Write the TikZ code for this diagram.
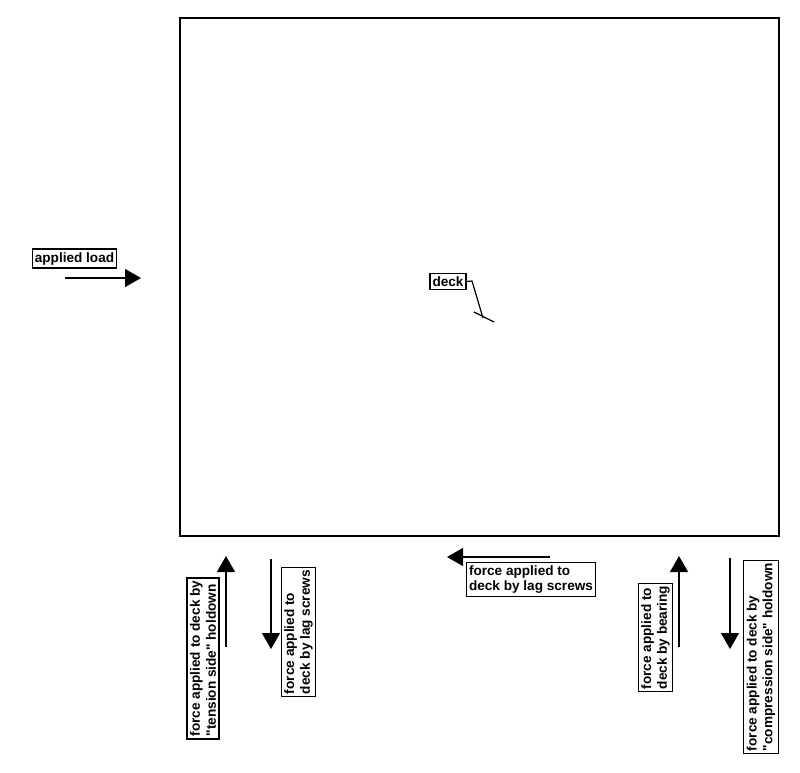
\documentclass[tikz,border=0pt]{standalone}
\usepackage{fontspec}
\newfontfamily\lblfont{Liberation Sans}
\usetikzlibrary{arrows.meta}
\tikzset{
  lbl/.style={draw,line width=1.4pt,font=\lblfont\fontsize{13.6}{15.8}\selectfont\bfseries,align=left,inner xsep=2.5pt,inner ysep=3pt},
  force/.style={line width=1.2pt,-{Triangle[width=18pt,length=16pt]}}
}
\begin{document}
\begin{tikzpicture}[x=1pt,y=-1pt]
   \useasboundingbox (0,0) rectangle (800,772);
   \node[draw,line width=1.2pt,minimum width=599pt,minimum height=518pt,inner sep=0pt] (panel) at (479.5,277) {};

   \node[lbl] (loadlbl) at (74.5,258.5) {applied load};
   \coordinate (loadA) at (65,278);
   \coordinate (loadB) at (141,278);
   \draw[force] (loadA) -- (loadB);

   \node[lbl] (decklbl) at (448,281.5) {deck};
   \coordinate (deckK) at (472,281);
   \coordinate (deckE) at (483,318);
   \coordinate (tickA) at (474,312);
   \coordinate (tickB) at (494,322);
   \draw[line width=1.2pt] (decklbl.east) -- (deckK) -- (deckE);
   \draw[line width=1.2pt] (tickA) -- (tickB);

   \node[lbl,rotate=90] (tenslbl) at (203,658.5) {force applied to deck by\\"tension side" holdown};
   \coordinate (tensA) at (226,647);
   \coordinate (tensB) at (226,556);
   \draw[force] (tensA) -- (tensB);

   \node[lbl,rotate=90] (lagvlbl) at (298.5,632) {force applied to\\deck by lag screws};
   \coordinate (lagvA) at (271,559);
   \coordinate (lagvB) at (271,649);
   \draw[force] (lagvA) -- (lagvB);

   \node[lbl] (laghlbl) at (531,579.5) {force applied to\\deck by lag screws};
   \coordinate (laghA) at (550,557);
   \coordinate (laghB) at (447,557);
   \draw[force] (laghA) -- (laghB);

   \node[lbl,rotate=90] (bearlbl) at (655.5,637.5) {force applied to\\deck by bearing};
   \coordinate (bearA) at (679,647);
   \coordinate (bearB) at (679,556);
   \draw[force] (bearA) -- (bearB);

   \node[lbl,rotate=90] (complbl) at (761,657) {force applied to deck by\\"compression side" holdown};
   \coordinate (compA) at (730,558);
   \coordinate (compB) at (730,649);
   \draw[force] (compA) -- (compB);
\end{tikzpicture}
\end{document}
